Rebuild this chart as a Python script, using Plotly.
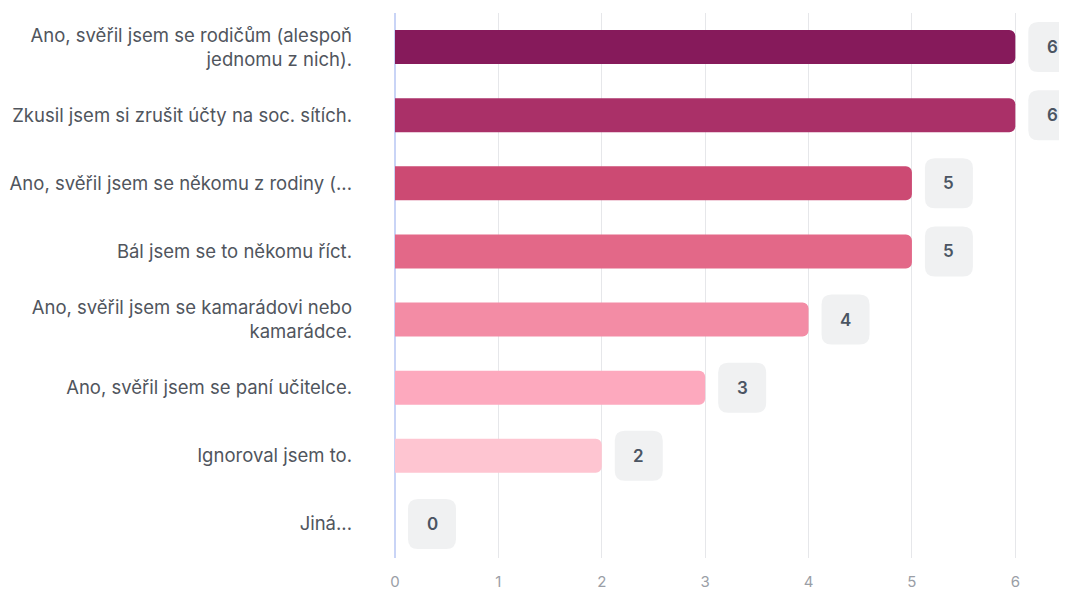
import plotly.graph_objects as go

categories = [
    "Ano, svěřil jsem se rodičům (alespoň<br>jednomu z nich).",
    "Zkusil jsem si zrušit účty na soc. sítích.",
    "Ano, svěřil jsem se někomu z rodiny (...",
    "Bál jsem se to někomu říct.",
    "Ano, svěřil jsem se kamarádovi nebo<br>kamarádce.",
    "Ano, svěřil jsem se paní učitelce.",
    "Ignoroval jsem to.",
    "Jiná...",
]
values = [6, 6, 5, 5, 4, 3, 2, 0]
colors = ["#861a5b", "#aa3068", "#cc4a73", "#e36888", "#f38ca5", "#fda9be", "#fec5d1", "#fde2e8"]
x_ticks = [0, 1, 2, 3, 4, 5, 6]

fig = go.Figure()
fig.add_trace(go.Bar(
    y=categories, x=values, orientation="h",
    marker=dict(color=colors, line=dict(width=0)),
    width=0.5, hoverinfo="x+y",
))

r = 10
x0, x1, h = 13, 61, 25
badge_path = (f"M {x0+r},{-h} L {x1-r},{-h} Q {x1},{-h} {x1},{-h+r} L {x1},{h-r} Q {x1},{h} {x1-r},{h} "
              f"L {x0+r},{h} Q {x0},{h} {x0},{h-r} L {x0},{-h+r} Q {x0},{-h} {x0+r},{-h} Z")
for c, v in zip(categories, values):
    fig.add_shape(type="path", xref="x", yref="y", xsizemode="pixel", ysizemode="pixel",
                  xanchor=v, yanchor=c, path=badge_path,
                  fillcolor="#f0f1f2", line=dict(width=0), layer="above")
    fig.add_annotation(x=v, y=c, xref="x", yref="y", text=str(v), showarrow=False,
                       xshift=37, font=dict(size=17, color="#4b5563", family="Inter", weight=600))

fig.update_layout(
    width=1059, height=587,
    margin=dict(l=387, r=0, t=5, b=37),
    plot_bgcolor="white", paper_bgcolor="white",
    barcornerradius=6,
    showlegend=False,
    font=dict(family="Inter", color="#4b5563"),
    xaxis=dict(range=[0, 6.5], tickvals=x_ticks, showgrid=True, gridcolor="#e6e7ea", gridwidth=1,
               zeroline=True, zerolinecolor="#c9d4f6", zerolinewidth=1.5, automargin=False,
               tickfont=dict(size=15, color="#9a9ea6"), ticklabelstandoff=13, showline=False),
    yaxis=dict(autorange="reversed", showgrid=False, zeroline=False, showline=False, automargin=False,
               tickfont=dict(size=18.5, color="#50555d"), ticklabelstandoff=42),
)
fig.write_html("out.html")
